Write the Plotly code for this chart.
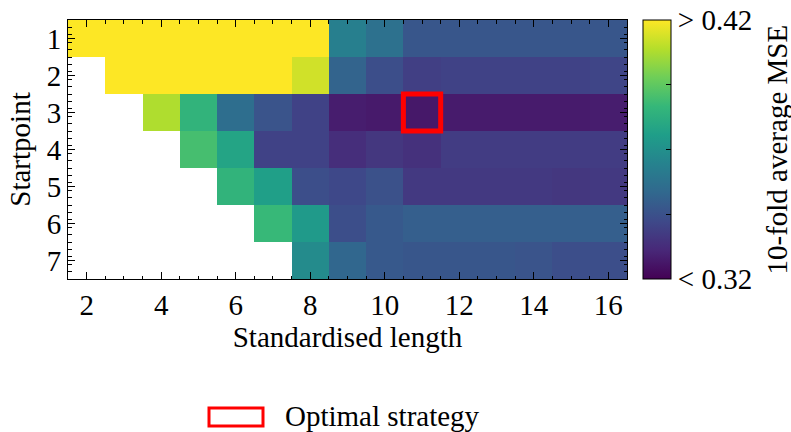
import numpy as np
import plotly.graph_objects as go

lengths = list(range(2, 17))
startpoints = list(range(1, 8))

row1 = [0.45, 0.45, 0.45, 0.45, 0.45, 0.45, 0.45, 0.363, 0.357, 0.347, 0.347, 0.347, 0.347, 0.347, 0.347]
row2 = [None, 0.45, 0.45, 0.45, 0.45, 0.45, 0.413, 0.352, 0.344, 0.339, 0.340, 0.340, 0.340, 0.340, 0.341]
row3 = [None, None, 0.408, 0.385, 0.356, 0.346, 0.340, 0.328, 0.327, 0.3265, 0.3275, 0.3275, 0.3275, 0.3275, 0.328]
row4 = [None, None, None, 0.390, 0.378, 0.340, 0.340, 0.333, 0.336, 0.334, 0.338, 0.338, 0.338, 0.338, 0.338]
row5 = [None, None, None, None, 0.385, 0.376, 0.344, 0.342, 0.345, 0.337, 0.337, 0.337, 0.337, 0.336, 0.337]
row6 = [None, None, None, None, None, 0.387, 0.374, 0.344, 0.348, 0.350, 0.350, 0.350, 0.350, 0.350, 0.350]
row7 = [None, None, None, None, None, None, 0.368, 0.353, 0.348, 0.347, 0.347, 0.347, 0.346, 0.344, 0.344]
mse = [row1, row2, row3, row4, row5, row6, row7]

zmin, zmax = 0.32, 0.42
cbar_ticks = [0.32, 0.345, 0.37, 0.395, 0.42]
cbar_labels = ["< 0.32", "", "", "", "> 0.42"]

FONT = "Liberation Serif"
FS = 29

arr = np.array([[np.nan if v is None else v for v in r] for r in mse])
ri, ci = np.unravel_index(np.nanargmin(arr), arr.shape)
opt_x, opt_y = lengths[ci], startpoints[ri]

fig = go.Figure()
fig.add_trace(go.Heatmap(
    x=lengths, y=startpoints, z=mse,
    zmin=zmin, zmax=zmax, colorscale="Viridis",
    hoverongaps=False,
    colorbar=dict(
        x=(643 - 68) / 559, xanchor="left", xpad=0, ypad=0,
        y=0.5, yanchor="middle", len=1, lenmode="fraction",
        thickness=28, thicknessmode="pixels",
        outlinewidth=1, outlinecolor="black",
        tickvals=cbar_ticks, ticktext=cbar_labels,
        ticks="inside", ticklen=5, tickcolor="black",
        tickfont=dict(family=FONT, size=FS, color="black"),
    ),
))

fig.add_shape(type="rect", xref="x", yref="y",
              x0=opt_x - 0.5, x1=opt_x + 0.5, y0=opt_y - 0.5, y1=opt_y + 0.5,
              line=dict(color="#ff0000", width=5))

# legend (manual)
fig.add_shape(type="rect", xref="paper", yref="paper",
              x0=(209 - 68) / 559, x1=(263 - 68) / 559,
              y0=(279 - 426) / 259, y1=(279 - 408) / 259,
              line=dict(color="#ff0000", width=3))
fig.add_annotation(xref="paper", yref="paper", x=(283 - 68) / 559, y=(279 - 416) / 259,
                   xanchor="left", yanchor="middle", showarrow=False,
                   text="Optimal strategy", font=dict(family=FONT, size=FS, color="black"))

# colorbar title
fig.add_annotation(xref="paper", yref="paper", x=(776 - 68) / 559, y=0.5,
                   xanchor="center", yanchor="middle", showarrow=False, textangle=-90,
                   text="10-fold average MSE", font=dict(family=FONT, size=FS, color="black"))

axis_common = dict(showline=True, linecolor="black", linewidth=1, mirror="allticks",
                   ticks="inside", ticklen=7, tickcolor="black", tickwidth=1,
                   showgrid=False, zeroline=False,
                   tickfont=dict(family=FONT, size=FS, color="black"))

fig.update_xaxes(range=[1.5, 16.5], tick0=2, dtick=2,
                 minor=dict(ticks="inside", dtick=0.5, ticklen=3.5, tickcolor="black", showgrid=False),
                 title=dict(text="Standardised length", font=dict(family=FONT, size=FS, color="black"), standoff=2),
                 **axis_common)
fig.update_yaxes(range=[7.5, 0.5], tickvals=startpoints,
                 minor=dict(ticks="inside", dtick=0.2, tick0=0.5, ticklen=3.5, tickcolor="black", showgrid=False),
                 title=dict(text="Startpoint", font=dict(family=FONT, size=FS, color="black"), standoff=7),
                 **axis_common)

fig.update_layout(
    width=791, height=432,
    margin=dict(l=68, r=164, t=20, b=153, autoexpand=False),
    paper_bgcolor="white", plot_bgcolor="white",
    font=dict(family=FONT, size=FS, color="black"),
    showlegend=False,
)

fig.write_html("out.html", config={"displayModeBar": False},
               post_script="document.body.style.margin='0';document.body.style.overflow='hidden';")
